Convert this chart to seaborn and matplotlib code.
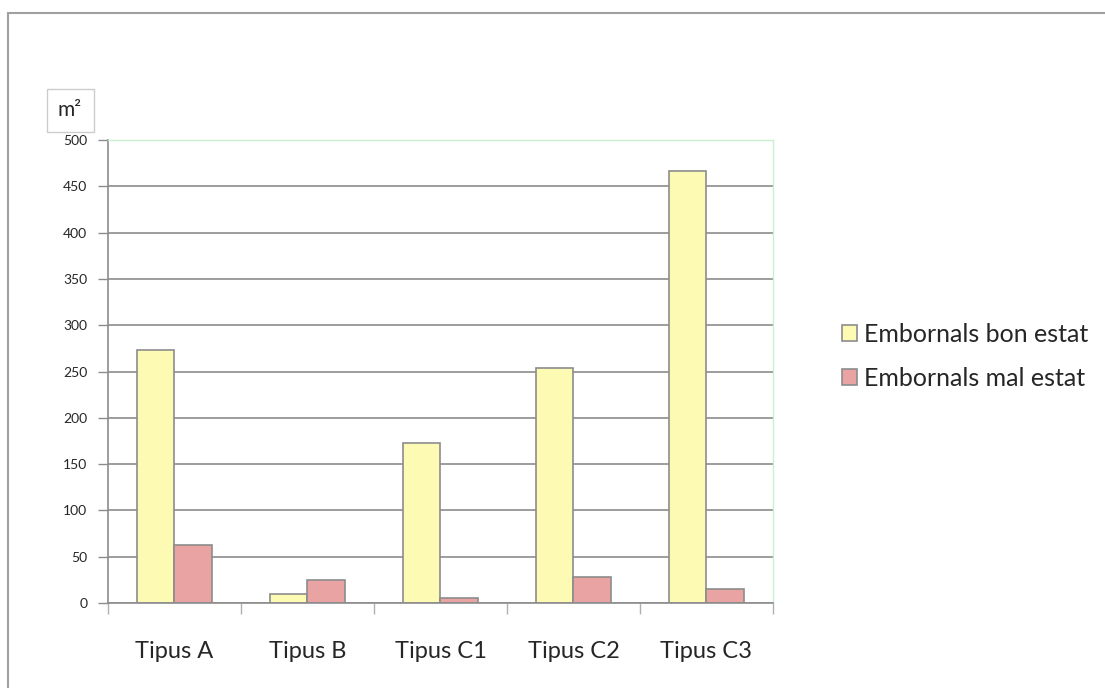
import numpy as np
import pandas as pd
import seaborn as sns
import matplotlib.pyplot as plt
from matplotlib.patches import Rectangle

# data (m2)
categories = ["Tipus A", "Tipus B", "Tipus C1", "Tipus C2", "Tipus C3"]
bon_estat = [273, 10, 173, 254, 466]
mal_estat = [63, 25, 5, 28, 15]
series_names = ["Embornals bon estat", "Embornals mal estat"]

df = pd.DataFrame({
    "tipus": categories * 2,
    "valor": bon_estat + mal_estat,
    "estat": [series_names[0]] * len(categories) + [series_names[1]] * len(categories),
})

palette = {series_names[0]: "#fdfab4", series_names[1]: "#e9a3a2"}

sns.set_style("white")
plt.rcParams['font.family'] = ['Lato', 'DejaVu Sans']

fig = plt.figure(figsize=(11.05, 6.88), dpi=100)
ax = fig.add_axes([0.0977, 0.1235, 0.6018, 0.673])

sns.barplot(data=df, x="tipus", y="valor", hue="estat", palette=palette,
            width=0.57, edgecolor="#8c8c8c", linewidth=1.2, ax=ax, saturation=1)

ax.set_ylim(0, 500)
ax.set_xlim(-0.5, 4.5)
ax.set_yticks(np.arange(0, 501, 50))
ax.yaxis.grid(True, color="#8c8c8c", linewidth=1.2)
ax.set_axisbelow(True)
ax.set_xlabel("")
ax.set_ylabel("")

for s in ["left", "bottom"]:
    ax.spines[s].set_color("#8c8c8c")
    ax.spines[s].set_linewidth(1.2)
for s in ["top", "right"]:
    ax.spines[s].set_color("#c8f0d0")
    ax.spines[s].set_linewidth(1.0)

ax.tick_params(axis="y", direction="out", length=7, width=1, color="#8c8c8c",
               labelsize=10, pad=8, left=True)
ax.tick_params(axis="x", which="major", length=0, labelsize=17, pad=27)
ax.set_xticks(np.arange(-0.5, 5, 1), minor=True)
ax.tick_params(axis="x", which="minor", direction="out", length=8, width=1,
               color="#b0b0b0", bottom=True)

leg = ax.legend(loc="center left", bbox_to_anchor=(1.07, 0.533), frameon=False,
                fontsize=18, handlelength=0.6, handleheight=0.6, handletextpad=0.3,
                labelspacing=0.85)

# unit box
fig.text(0.0634, 0.84, "m\u00b2", fontsize=15, ha="center", va="center",
         bbox=dict(boxstyle="square,pad=0.55", facecolor="white", edgecolor="#cccccc"))

# outer frame of the chart
fig.patches.append(Rectangle((0.0075, -0.1), 1.1, 1.081, transform=fig.transFigure,
                             fill=False, edgecolor="#a0a0a0", linewidth=1.5))

fig.savefig("out.png", dpi=100)
